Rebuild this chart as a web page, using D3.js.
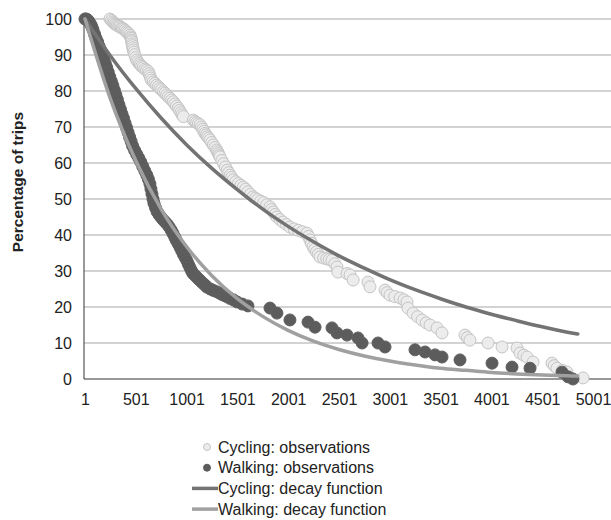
<!DOCTYPE html>
<html>
<head>
<meta charset="utf-8">
<script src="https://cdn.jsdelivr.net/npm/d3@7"></script>
<style>
  body { margin: 0; background: #fff; }
  text { font-family: "Liberation Sans", Arial, sans-serif; }
</style>
</head>
<body>
<div id="chart"></div>
<script>
// distance (m) / percentage of trips
var cyclingObs = [
  [247,100],[262,99.6],[275,99.2],[286,98.9],[296,98.6],[308,98.4],[320,98.2],[333,98],[345,97.9],[358,97.6],
  [370,97.4],[383,97.2],[395,96.9],[408,96.5],[420,96.2],[432,95.9],[444,95.5],[450,95],[455,94.6],[458,94.1],
  [461,93.7],[465,93.1],[468,92.6],[472,92],[476,91.4],[483,90.8],[490,90.1],[500,89.3],[510,88.6],[522,88.1],
  [535,87.6],[547,87.2],[559,86.8],[575,86.5],[590,86.1],[607,85.8],[624,85.4],[632,84.8],[640,84.2],[648,83.6],
  [657,83],[673,82.5],[690,82.1],[706,81.6],[723,81.2],[739,80.7],[755,80.3],[772,79.8],[788,79.4],[804,78.9],
  [820,78.4],[837,78],[854,77.5],[870,77],[885,76.4],[902,75.8],[919,75.2],[932,74.6],[945,74],[957,73.4],
  [969,72.9],[1067,71.9],[1084,71.5],[1100,71.2],[1117,70.9],[1133,70.6],[1147,70],[1160,69.4],[1171,68.8],[1182,68.2],
  [1194,67.8],[1205,67.3],[1218,66.9],[1231,66.4],[1248,65.7],[1265,65],[1281,64.3],[1297,63.6],[1306,63.1],[1315,62.6],
  [1322,62.1],[1330,61.7],[1348,60.7],[1365,59.8],[1383,58.9],[1400,58],[1415,57.3],[1430,56.6],[1445,56],[1460,55.3],
  [1485,54.8],[1510,54.3],[1535,53.8],[1560,53.3],[1582,52.7],[1605,52],[1630,51.3],[1655,50.6],[1678,50.2],[1700,49.8],
  [1730,49.4],[1760,49],[1790,48.4],[1822,47.8],[1838,47.1],[1855,46.4],[1872,45.7],[1890,45],[1920,44.3],[1950,43.6],
  [1985,42.9],[2018,42.2],[2060,41.7],[2100,41.3],[2140,40.9],[2185,40.5],[2200,39.6],[2215,38.6],[2230,37.7],[2245,36.7],
  [2262,36],[2280,35.3],[2297,34.6],[2314,33.9],[2350,33.6],[2380,33.4],[2405,33.2],[2432,33],[2460,32],[2481,31.1],
  [2490,29.7],[2580,29.3],[2610,28.9],[2640,27.5],[2786,26.9],[2806,25.6],[2954,24.7],[2975,24],[3003,23.3],[3050,22.9],
  [3102,22.5],[3140,22],[3170,21.4],[3180,19.7],[3230,18.3],[3275,17.3],[3318,16.4],[3360,15.6],[3397,15],[3466,14.2],
  [3515,12.8],[3741,12.2],[3765,11.5],[3790,10.8],[3968,10],[4106,8.9],[4253,8.6],[4283,7.2],[4320,6.6],[4352,6.1],
  [4411,4.7],[4598,4.4],[4620,3.7],[4647,3],[4700,2.4],[4745,1.9],[4903,0.3]
];
var walkingObs = [
  [1,100],[12,100],[25,99.8],[40,99.3],[55,98.6],[68,97.9],[80,97],[95,95.8],[110,94.6],[125,93.6],
  [140,92.4],[155,91.3],[170,90],[185,88.9],[200,87.8],[215,86.5],[230,85.2],[245,83.9],[260,82.7],[275,81.5],
  [290,80.2],[305,78.9],[320,77.6],[335,76.2],[350,74.9],[365,73.6],[380,72.4],[395,71.1],[410,69.8],[425,68.5],
  [440,67.2],[455,66],[470,64.7],[490,63.5],[510,62.4],[530,61.4],[550,60.3],[570,59],[590,57.8],[610,56.6],
  [625,55.5],[640,54.2],[650,52.8],[660,51.4],[670,50],[680,48.8],[695,47.6],[710,46.5],[730,45.6],[750,44.9],
  [770,44.2],[790,43.6],[810,43],[830,42.2],[850,41.3],[867,40.4],[885,39.4],[900,38.5],[918,37.6],[936,36.6],
  [953,35.6],[970,34.6],[988,33.7],[1005,32.8],[1020,31.8],[1035,30.9],[1050,30],[1064,29.3],[1082,28.8],[1100,28.3],
  [1117,27.8],[1133,27.4],[1150,26.9],[1170,26.4],[1186,26],[1202,25.5],[1235,25],[1265,24.6],[1300,24.2],[1330,23.8],
  [1355,23.4],[1380,23.1],[1405,22.8],[1428,22.4],[1460,22],[1497,21.4],[1550,20.8],[1605,20.3],[1822,19.7],[1890,18.3],
  [2018,16.4],[2196,15.8],[2265,14.4],[2432,14.2],[2481,12.8],[2580,12.2],[2688,11.4],[2728,10],[2885,10],[2954,8.9],
  [3249,8.1],[3348,7.5],[3446,6.7],[3515,6.1],[3692,5.3],[4007,4.4],[4204,3.3],[4381,3],[4696,1.9],[4755,0.6],
  [4804,0]
];
var cyclingDecay = [
  [1,100],[250,89.8],[500,80.7],[750,72.5],[1000,65.1],[1250,58.5],[1500,52.6],[1750,47.2],[2000,42.4],[2250,38.1],
  [2500,34.2],[2750,30.8],[3000,27.6],[3250,24.8],[3500,22.3],[3750,20],[4000,18],[4250,16.2],[4500,14.5],[4750,13],[4851,12.5]
];
var walkingDecay = [
  [1,100],[250,77.9],[500,60.7],[750,47.2],[1000,36.8],[1250,28.7],[1500,22.3],[1750,17.4],[2000,13.5],[2250,10.5],
  [2500,8.2],[2750,6.4],[3000,5],[3250,3.9],[3500,3],[3750,2.4],[4000,1.8],[4250,1.4],[4500,1.1],[4750,0.9],[4851,0.8]
];
var xTicks = [1,501,1001,1501,2001,2501,3001,3501,4001,4501,5001];
var yTicks = [0,10,20,30,40,50,60,70,80,90,100];
var legendItems = [
  {label: "Cycling: observations", type: "dot", fill: "#ececec", stroke: "#c4c4c4"},
  {label: "Walking: observations", type: "dot", fill: "#5c5c5c", stroke: "#5c5c5c"},
  {label: "Cycling: decay function", type: "line", stroke: "#737373"},
  {label: "Walking: decay function", type: "line", stroke: "#a0a0a0"}
];

var W = 611, H = 520;
var plotLeft = 84, plotRight = 611, plotTop = 19, plotBottom = 379;

var svg = d3.select("#chart").append("svg")
    .attr("width", W)
    .attr("height", H);

var x = d3.scaleLinear().domain([1, 5001]).range([85, 593]);
var y = d3.scaleLinear().domain([0, 100]).range([plotBottom, plotTop]);

// gridlines
svg.append("g").selectAll("line")
    .data(yTicks.filter(function(d) { return d > 0; }))
  .enter().append("line")
    .attr("x1", plotLeft).attr("x2", plotRight)
    .attr("y1", function(d) { return y(d); })
    .attr("y2", function(d) { return y(d); })
    .attr("stroke", "#c4c4c4")
    .attr("stroke-width", 1.5);

// y axis
var yAxis = svg.append("g")
    .attr("transform", "translate(" + plotLeft + ",0)")
    .call(d3.axisLeft(y).tickValues(yTicks).tickSize(0).tickPadding(12));
yAxis.select(".domain").remove();
yAxis.selectAll("text")
    .attr("font-size", 16)
    .attr("fill", "#222")
    .style("font-family", "'Liberation Sans', Arial, sans-serif");

svg.append("line")
    .attr("x1", plotLeft).attr("x2", plotLeft)
    .attr("y1", plotTop).attr("y2", plotBottom)
    .attr("stroke", "#555").attr("stroke-width", 1.2);

// x axis
var xAxis = svg.append("g")
    .attr("transform", "translate(0," + plotBottom + ")")
    .call(d3.axisBottom(x).tickValues(xTicks).tickSize(0).tickPadding(15).tickFormat(d3.format("d")));
xAxis.select(".domain").remove();
xAxis.selectAll("text")
    .attr("font-size", 16)
    .attr("fill", "#222")
    .style("font-family", "'Liberation Sans', Arial, sans-serif");

svg.append("line")
    .attr("x1", plotLeft).attr("x2", plotRight)
    .attr("y1", plotBottom).attr("y2", plotBottom)
    .attr("stroke", "#333").attr("stroke-width", 1.2);

// y title
svg.append("text")
    .attr("transform", "translate(23,182) rotate(-90)")
    .attr("text-anchor", "middle")
    .attr("font-size", 15.5)
    .attr("font-weight", "bold")
    .attr("fill", "#222")
    .text("Percentage of trips");

// observations
svg.append("g").selectAll("circle")
    .data(cyclingObs)
  .enter().append("circle")
    .attr("cx", function(d) { return x(d[0]); })
    .attr("cy", function(d) { return y(d[1]); })
    .attr("r", 6)
    .attr("fill", "#ececec")
    .attr("stroke", "#c4c4c4")
    .attr("stroke-width", 1);

svg.append("g").selectAll("circle")
    .data(walkingObs)
  .enter().append("circle")
    .attr("cx", function(d) { return x(d[0]); })
    .attr("cy", function(d) { return y(d[1]); })
    .attr("r", 6)
    .attr("fill", "#5c5c5c")
    .attr("stroke", "#606060")
    .attr("stroke-width", 1);

// decay functions
var line = d3.line()
    .x(function(d) { return x(d[0]); })
    .y(function(d) { return y(d[1]); })
    .curve(d3.curveMonotoneX);

svg.append("path")
    .datum(cyclingDecay)
    .attr("d", line)
    .attr("fill", "none")
    .attr("stroke", "#737373")
    .attr("stroke-width", 3.5)
    .attr("stroke-linecap", "round");

svg.append("path")
    .datum(walkingDecay)
    .attr("d", line)
    .attr("fill", "none")
    .attr("stroke", "#a0a0a0")
    .attr("stroke-width", 3.5)
    .attr("stroke-linecap", "round");

// legend
var legend = svg.append("g").selectAll("g")
    .data(legendItems)
  .enter().append("g")
    .attr("transform", function(d, i) { return "translate(0," + (447 + i * 20.7) + ")"; });

legend.filter(function(d) { return d.type == "dot"; })
  .append("circle")
    .attr("cx", 207).attr("cy", 0).attr("r", 3.5)
    .attr("fill", function(d) { return d.fill; })
    .attr("stroke", function(d) { return d.stroke; });

legend.filter(function(d) { return d.type == "line"; })
  .append("line")
    .attr("x1", 192).attr("x2", 218)
    .attr("y1", 0).attr("y2", 0)
    .attr("stroke", function(d) { return d.stroke; })
    .attr("stroke-width", 3.5);

legend.append("text")
    .attr("x", 218)
    .attr("y", 0)
    .attr("dy", "0.35em")
    .attr("font-size", 16)
    .attr("fill", "#222")
    .text(function(d) { return d.label; });
</script>
</body>
</html>
